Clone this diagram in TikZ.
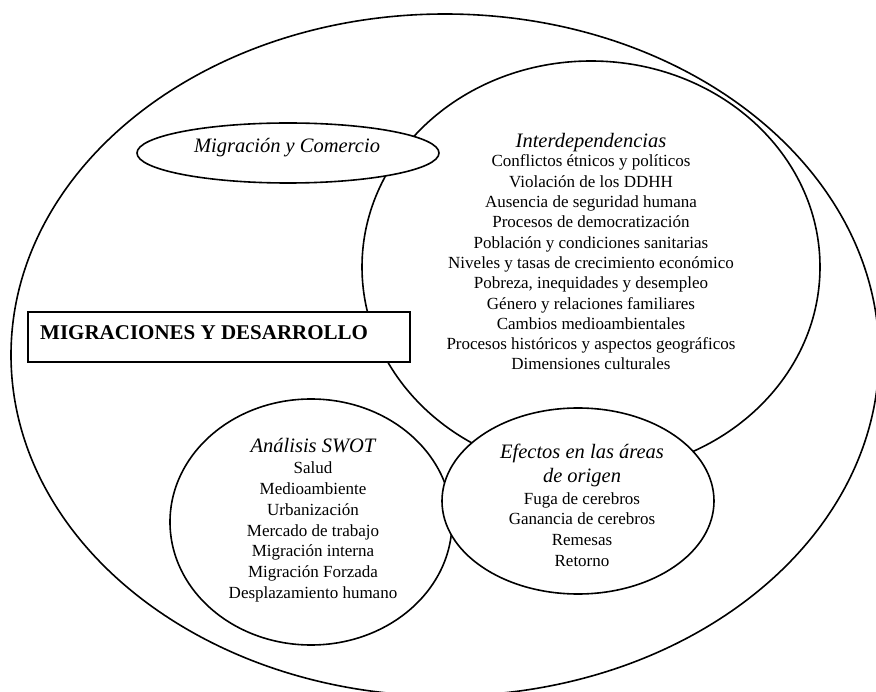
\documentclass[tikz,border=0pt]{standalone}
\usepackage{fontspec}
\setmainfont{Liberation Serif}
\usetikzlibrary{shapes.geometric}
\tikzset{
  outline/.style={draw=black, line width=1.6pt, fill=white, inner sep=0pt, outer sep=0pt},
  oval/.style={outline, ellipse},
  headtxt/.style={font=\fontsize{20.5}{24}\selectfont\itshape, anchor=base, inner sep=0pt},
  bodytxt/.style={font=\fontsize{17}{20}\selectfont, anchor=base, inner sep=0pt},
  boldtxt/.style={font=\fontsize{21}{25}\selectfont\bfseries, anchor=base west, inner sep=0pt}
}
\begin{document}
\begin{tikzpicture}[x=1pt,y=-1pt]
\useasboundingbox (0,0) rectangle (876,692);
\clip (0,0) rectangle (876,692);
% shapes (drawing order matters: later ones cover earlier ones)
\node[oval, minimum width=868pt, minimum height=682pt] (big) at (445,355) {};
\node[oval, minimum width=458pt, minimum height=412pt] (inter) at (591,267) {};
\node[oval, minimum width=282pt, minimum height=246pt] (swot) at (311,522) {};
\node[oval, minimum width=302pt, minimum height=60pt] (comercio) at (288,153) {};
\node[outline, rectangle, minimum width=382pt, minimum height=50pt] (md) at (219,337) {};
\node[oval, minimum width=272pt, minimum height=186pt] (efectos) at (578,501) {};
% texts
\node[headtxt] (comercio-t) at (287,153) {Migración y Comercio};
\node[boldtxt] (md-t) at (40,340) {MIGRACIONES Y DESARROLLO};
\node[headtxt] (inter-h) at (591,148) {Interdependencias};
\foreach \t [count=\i] in {Conflictos étnicos y políticos, Violación de los DDHH,
  Ausencia de seguridad humana, Procesos de democratización,
  Población y condiciones sanitarias, Niveles y tasas de crecimiento económico,
  {Pobreza, inequidades y desempleo}, Género y relaciones familiares,
  Cambios medioambientales, Procesos históricos y aspectos geográficos,
  Dimensiones culturales}
  \node[bodytxt] (inter-\i) at (591,{167+20.3*(\i-1)}) {\t};
\node[headtxt] (swot-h) at (313,453) {Análisis SWOT};
\foreach \t [count=\i] in {Salud, Medioambiente, Urbanización, Mercado de trabajo,
  Migración interna, Migración Forzada, Desplazamiento humano}
  \node[bodytxt] (swot-\i) at (313,{474+20.7*(\i-1)}) {\t};
\node[headtxt] (efectos-h1) at (582,459) {Efectos en las áreas};
\node[headtxt] (efectos-h2) at (582,483) {de origen};
\foreach \t [count=\i] in {Fuga de cerebros, Ganancia de cerebros, Remesas, Retorno}
  \node[bodytxt] (efectos-\i) at (582,{504+20.8*(\i-1)}) {\t};
\end{tikzpicture}
\end{document}
